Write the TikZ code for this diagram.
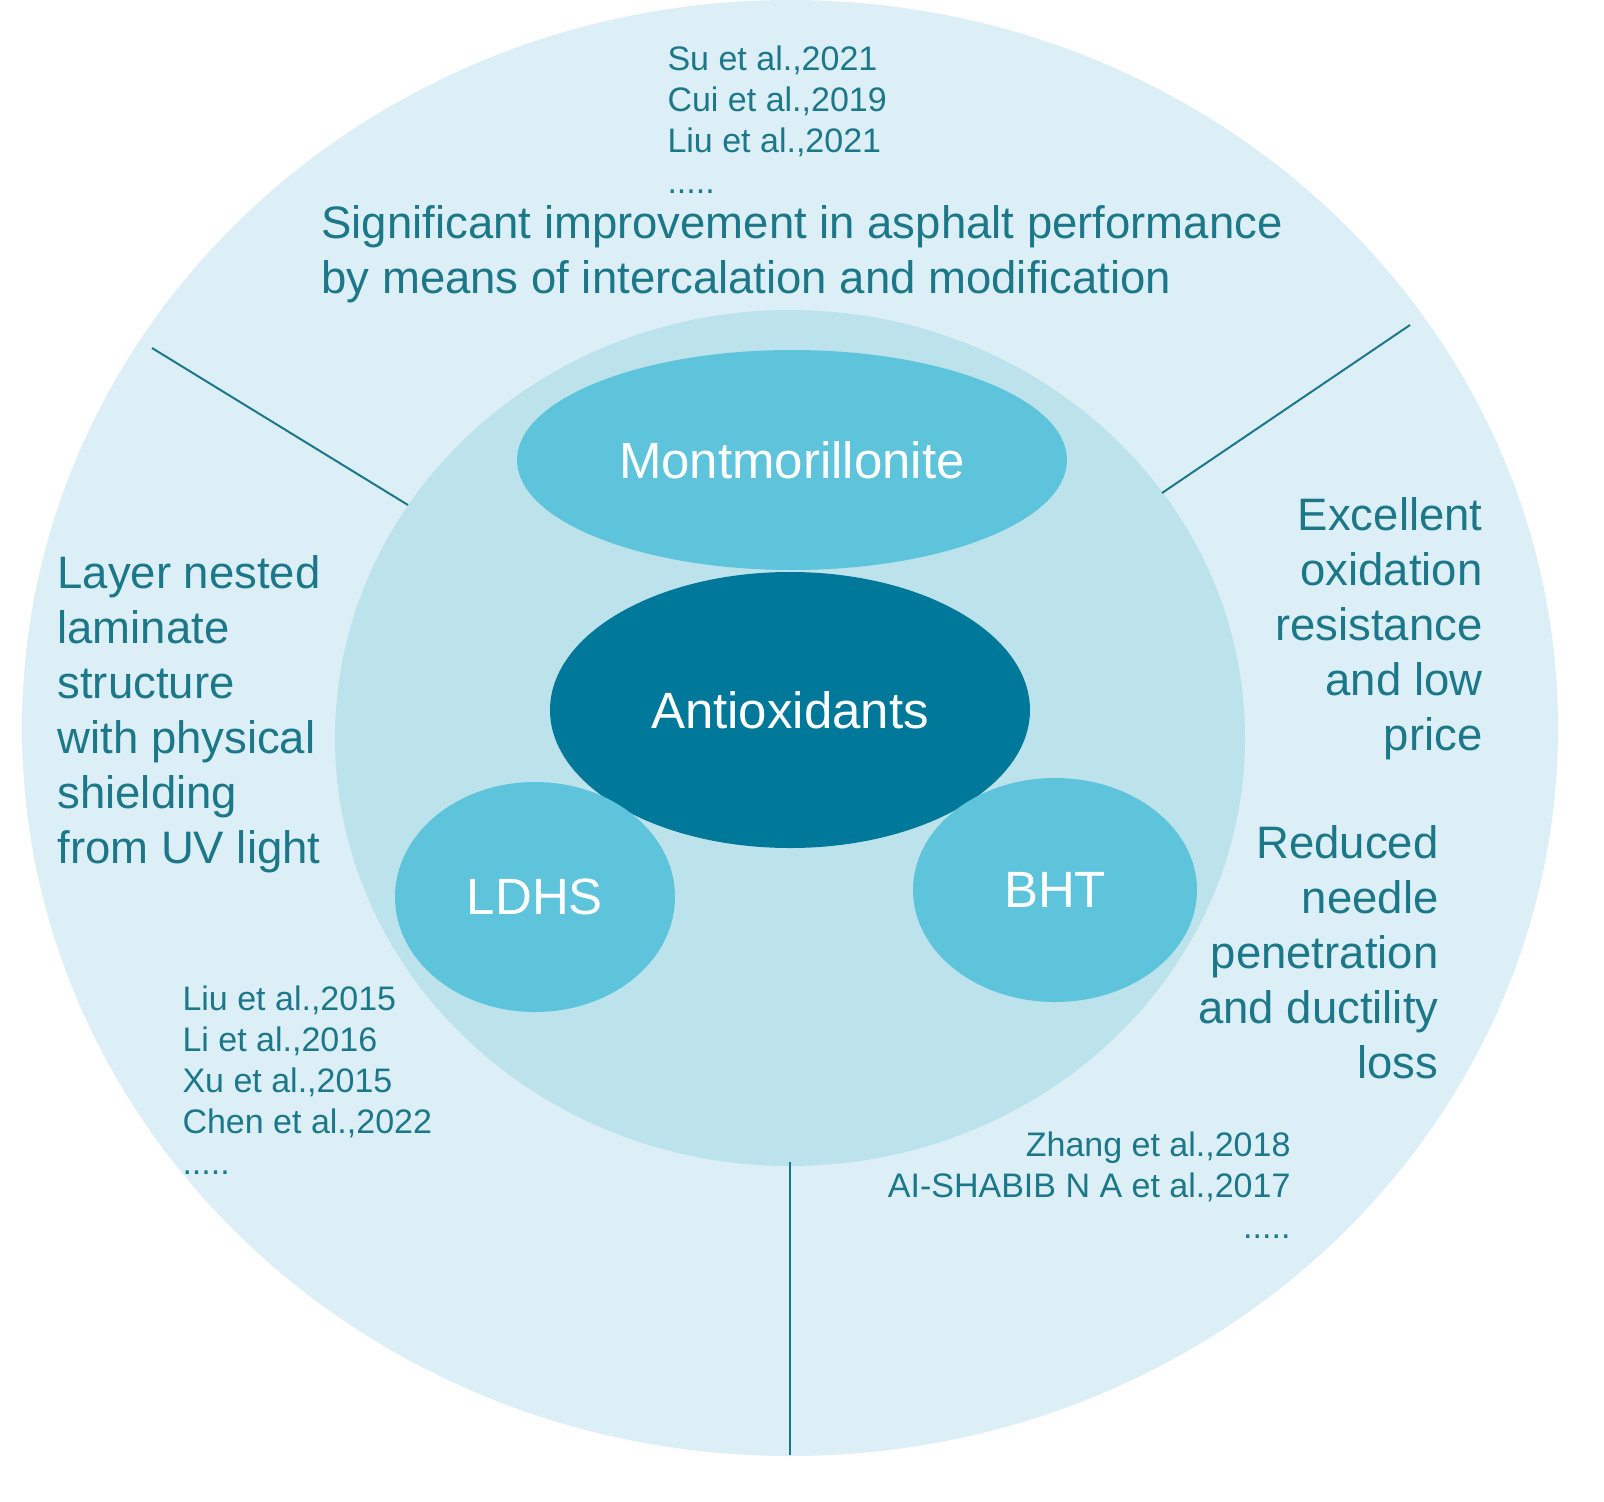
\documentclass[tikz,border=0pt]{standalone}
\usepackage{fontspec}
\usetikzlibrary{shapes.geometric}
\setmainfont{Liberation Sans}
\definecolor{outer}{HTML}{DCEFF6}
\definecolor{inner}{HTML}{BCE3EB}
\definecolor{mid}{HTML}{5EC4DC}
\definecolor{dark}{HTML}{00789A}
\definecolor{txt}{HTML}{1C7888}
\begin{document}
\begin{tikzpicture}[x=1pt,y=-1pt,
  big/.style={text=txt,font=\fontsize{45.5}{55}\selectfont},
  cit/.style={text=txt,font=\fontsize{34}{41}\selectfont,align=left},
  lab/.style={text=white,font=\fontsize{51}{56}\selectfont},
  sep/.style={draw=txt,line width=2pt}]
\useasboundingbox (0,0) rectangle (1604,1502);
\fill[outer] (790,728) ellipse [x radius=768, y radius=728];
\fill[inner] (790,738) ellipse [x radius=455, y radius=428];
\coordinate (a1) at (152,348); \coordinate (a2) at (408,505);
\coordinate (b1) at (1410,325); \coordinate (b2) at (1162,493);
\coordinate (c1) at (790,1162); \coordinate (c2) at (790,1455);
\draw[sep] (a1)--(a2); \draw[sep] (b1)--(b2); \draw[sep] (c1)--(c2);
\node[fill=mid,ellipse,minimum width=550,minimum height=220,inner sep=0,lab] (m) at (792,460) {Montmorillonite};
\node[fill=dark,ellipse,minimum width=480,minimum height=276,inner sep=0,lab] (ao) at (790,710) {Antioxidants};
\node[fill=mid,ellipse,minimum width=280,minimum height=230,inner sep=0,lab] (l) at (535,897) {LDHS};
\node[fill=mid,ellipse,minimum width=284,minimum height=224,inner sep=0,lab] (b) at (1055,890) {BHT};
\node[cit,anchor=north west] (c1t) at (664,42) {Su et al.,2021\\Cui et al.,2019\\Liu et al.,2021\\.....};
\node[big,anchor=north west,align=left] (top) at (318,202) {Significant improvement in asphalt performance\\by means of intercalation and modification};
\node[big,anchor=north west,align=left] (left) at (54,552) {Layer nested\\laminate\\structure\\with physical\\shielding\\from UV light};
\node[big,anchor=north east,align=right] (r1) at (1486,494) {Excellent\\oxidation\\resistance\\and low\\price};
\node[big,anchor=north east,align=right] (r2) at (1442,822) {Reduced\\needle\\penetration\\and ductility\\loss};
\node[cit,anchor=north west] (c2t) at (179,982) {Liu et al.,2015\\Li et al.,2016\\Xu et al.,2015\\Chen et al.,2022\\.....};
\node[cit,anchor=north east,align=right] (c3t) at (1294,1128) {Zhang et al.,2018\\AI-SHABIB N A et al.,2017\\.....};
\end{tikzpicture}
\end{document}
